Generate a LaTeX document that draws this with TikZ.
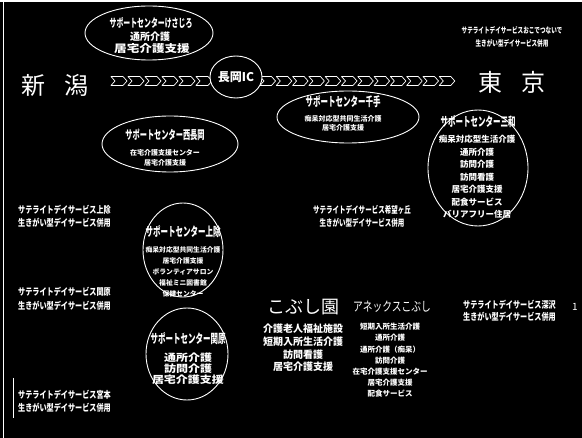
\documentclass[tikz,border=0pt]{standalone}
\usepackage{fontspec}
\usetikzlibrary{shapes.geometric}
\newfontfamily\jp{Noto Sans CJK JP}
\newfontfamily\jpn[FakeStretch=0.7]{Noto Sans CJK JP}
\newfontfamily\jpt[FakeStretch=0.6]{Noto Sans CJK JP}
\newfontfamily\jpm[FakeStretch=0.75]{Noto Sans CJK JP}
\newfontfamily\jpw[FakeStretch=1.2]{Noto Sans CJK JP}
\newcommand\fs[2]{\fontsize{#1}{#2}\selectfont}
\begin{document}
\begin{tikzpicture}[x=1pt,y=-1pt,
  every node/.style={text=white, inner sep=0pt, align=center},
  ring/.style={draw=white, line width=0.9pt, ellipse, fill=black},
  ttl/.style={font=\jpt\bfseries\fs{12.5}{13}},
  sat/.style={font=\jpm\bfseries\fs{9.5}{11}, anchor=west},
  chev/.style={draw=white, line width=0.7pt, line join=round}
]
\useasboundingbox (0,0) rectangle (582,438);
\fill[black] (0,0) rectangle (582,438);
\fill[white] (0,0) rectangle (582,2.5);
\draw[white, line width=0.8pt] (3,0) -- (3,438);
\draw[white, line width=0.8pt] (13,378) -- (13,418);

% highway
\node[font=\jp\fs{24}{24}] (niigata) at (55,85) {新\hspace{20pt}潟};
\node[font=\jp\fs{24}{24}] (tokyo) at (512,82) {東\hspace{20pt}京};
\foreach \i in {0,...,5}
  \draw[chev, shift={(111+17*\i,81)}] (0,-4.5) -- (12,-4.5) -- (16,0) -- (12,4.5) -- (0,4.5) -- (4,0) -- cycle;
\foreach \i in {0,...,11}
  \draw[chev, shift={(260+16.3*\i,81)}] (0,-4.5) -- (11.5,-4.5) -- (15.5,0) -- (11.5,4.5) -- (0,4.5) -- (4,0) -- cycle;
\node[ring, minimum width=52pt, minimum height=42pt] (ic) at (236,77) {};
\node[font=\jp\bfseries\fs{12}{12}] (ictext) at (236,77) {長岡IC};

% top ellipse
\node[ring, minimum width=128pt, minimum height=54pt] (e1) at (149,33) {};
\node[ttl, font=\jpt\bfseries\fs{11.5}{12}] (e1t) at (151,23) {サポートセンターけさじろ};
\node[font=\jp\bfseries\fs{10}{10}] (e1a) at (150,37) {通所介護};
\node[font=\jpw\bfseries\fs{10.5}{10.5}] (e1b) at (152,49) {居宅介護支援};

% senju
\node[ring, minimum width=142pt, minimum height=52pt] (e2) at (348,117) {};
\node[ttl] (e2t) at (343,102) {サポートセンター千手};
\node[font=\jp\bfseries\fs{7}{9}] (e2b) at (343,123.5) {痴呆対応型共同生活介護\\居宅介護支援};

% nishinagaoka
\node[ring, minimum width=136pt, minimum height=56pt] (e3) at (170,144) {};
\node[ttl, font=\jpt\bfseries\fs{12}{12}] (e3t) at (165,135) {サポートセンター西長岡};
\node[font=\jp\bfseries\fs{7}{10}] (e3b) at (165,158) {在宅介護支援センター\\居宅介護支援};

% sanwa
\node[ring, minimum width=100pt, minimum height=116pt] (e4) at (478,168) {};
\node[ttl] (e4t) at (478,122) {サポートセンター三和};
\node[font=\jp\bfseries\fs{8.5}{12.5}] (e4b) at (477,177) {痴呆対応型生活介護\\通所介護\\訪問介護\\訪問看護\\居宅介護支援\\配食サービス\\バリアフリー住居};

% jounoke
\node[ring, minimum width=80pt, minimum height=94pt] (e5) at (183,250) {};
\node[ttl] (e5t) at (183,232) {サポートセンター上除};
\node[font=\jp\bfseries\fs{6.8}{10.8}] (e5b) at (183,272) {痴呆対応型共同生活介護\\居宅介護支援\\ボランティアサロン\\福祉ミニ図書館\\保健センター};

% sekihara
\node[ring, minimum width=82pt, minimum height=92pt] (e6) at (187,354) {};
\node[ttl] (e6t) at (188,339) {サポートセンター関原};
\node[font=\jpw\bfseries\fs{10}{11}] (e6b) at (188,369) {通所介護\\訪問介護\\居宅介護支援};

% satellites
\node[font=\jpn\bfseries\fs{8}{13}] (s0) at (512,36.5) {サテライトデイサービスおこでつないで\\生きがい型デイサービス併用};
\node[sat] (s1a) at (18,210) {サテライトデイサービス上除};
\node[sat] (s1b) at (18,223) {生きがい型デイサービス併用};
\node[sat] (s2a) at (18,292) {サテライトデイサービス関原};
\node[sat] (s2b) at (18,306) {生きがい型デイサービス併用};
\node[sat] (s3a) at (18,395) {サテライトデイサービス宮本};
\node[sat] (s3b) at (18,408) {生きがい型デイサービス併用};
\node[font=\jpn\bfseries\fs{9.3}{13}] (s4) at (362,216.5) {サテライトデイサービス希望ヶ丘\\生きがい型デイサービス併用};
\node[sat] (s5a) at (463,305) {サテライトデイサービス深沢};
\node[sat] (s5b) at (463,317) {生きがい型デイサービス併用};
\node[font=\jp\fs{10}{10}] (one) at (575,307) {1};

% kobushien
\node[font=\jp\fs{18}{18}] (kob) at (303,307) {こぶし園};
\node[font=\jp\bfseries\fs{10}{12.7}] (kobb) at (303,348) {介護老人福祉施設\\短期入所生活介護\\訪問看護\\居宅介護支援};
\node[font=\jpm\fs{13}{13}] (anx) at (392,307) {アネックスこぶし};
\node[font=\jp\bfseries\fs{7.5}{11.2}] (anxb) at (390,360.5) {短期入所生活介護\\通所介護\\通所介護（痴呆）\\訪問介護\\在宅介護支援センター\\居宅介護支援\\配食サービス};
\end{tikzpicture}
\end{document}
